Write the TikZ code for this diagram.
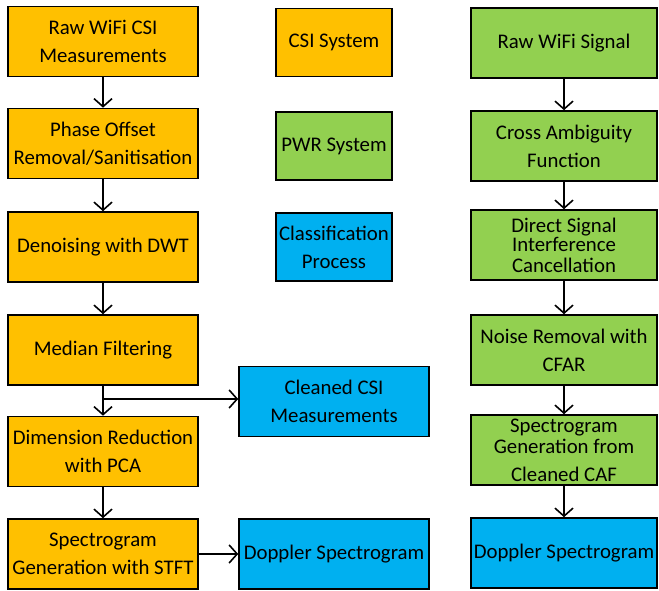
\documentclass[tikz,border=0pt]{standalone}
\usepackage{fontspec}
\setmainfont{Carlito}
\usetikzlibrary{arrows.meta}
\definecolor{csiorange}{HTML}{FFC000}
\definecolor{pwrgreen}{HTML}{92D050}
\definecolor{clsblue}{HTML}{00B0F0}
\tikzset{
  blk/.style={draw=black,line width=1.6pt,minimum width=190pt,minimum height=70pt,
    inner sep=1pt,align=center,font=\fontsize{20.8}{28}\selectfont},
  csi/.style={blk,fill=csiorange},
  pwr/.style={blk,fill=pwrgreen,minimum width=186pt},
  cls/.style={blk,fill=clsblue},
  key/.style={minimum width=116pt,minimum height=68pt},
  arr/.style={line width=1.6pt,-{Straight Barb[length=8pt,width=18pt,line width=1.6pt]}}
}
\begin{document}
\begin{tikzpicture}[x=1pt,y=-1pt]
    \useasboundingbox (0,0) rectangle (659,591);
    % CSI chain
    \node[csi] (raw) at (103,41.5) {Raw WiFi CSI\\Measurements};
    \node[csi] (phase) at (103,143.5) {Phase Offset\\Removal/Sanitisation};
    \node[csi] (dwt) at (103,247) {Denoising with DWT};
    \node[csi] (med) at (103,350) {Median Filtering};
    \node[csi] (pca) at (103,451.5) {Dimension Reduction\\with PCA};
    \node[csi] (stft) at (103,554) {Spectrogram\\Generation with STFT};
    \node[cls] (clean) at (334,401.5) {Cleaned CSI\\Measurements};
    \node[cls] (dopl) at (334,554) {Doppler Spectrogram};
    % legend
    \node[csi,key] (kcsi) at (334,42.5) {CSI System};
    \node[pwr,key] (kpwr) at (334,146) {PWR System};
    \node[cls,key] (kcls) at (334,247) {Classification\\Process};
    % PWR chain
    \node[pwr] (sig) at (564,43) {Raw WiFi Signal};
    \node[pwr] (caf) at (564,146) {Cross Ambiguity\\Function};
    \node[pwr] (dsi) at (564,245) {Direct Signal\\[-9pt]Interference\\[-7pt]Cancellation};
    \node[pwr] (cfar) at (564,350) {Noise Removal with\\CFAR};
    \node[pwr] (cgen) at (564,450) {Spectrogram\\[-7pt]Generation from\\Cleaned CAF};
    \node[cls,minimum width=186pt] (dopr) at (564,553) {Doppler Spectrogram};
    \draw[arr] (raw) -- (phase);
    \draw[arr] (phase) -- (dwt);
    \draw[arr] (dwt) -- (med);
    \draw[arr] (med) -- (pca);
    \coordinate (br) at (med.south |- 0,399);
    \draw[arr] (br) -- (br -| clean.west);
    \draw[arr] (pca) -- (stft);
    \draw[arr] (stft) -- (stft -| dopl.west);
    \draw[arr] (sig) -- (caf);
    \draw[arr] (caf) -- (dsi);
    \draw[arr] (dsi) -- (cfar);
    \draw[arr] (cfar) -- (cgen);
    \draw[arr] (cgen) -- (dopr);
  \end{tikzpicture}
\end{document}
